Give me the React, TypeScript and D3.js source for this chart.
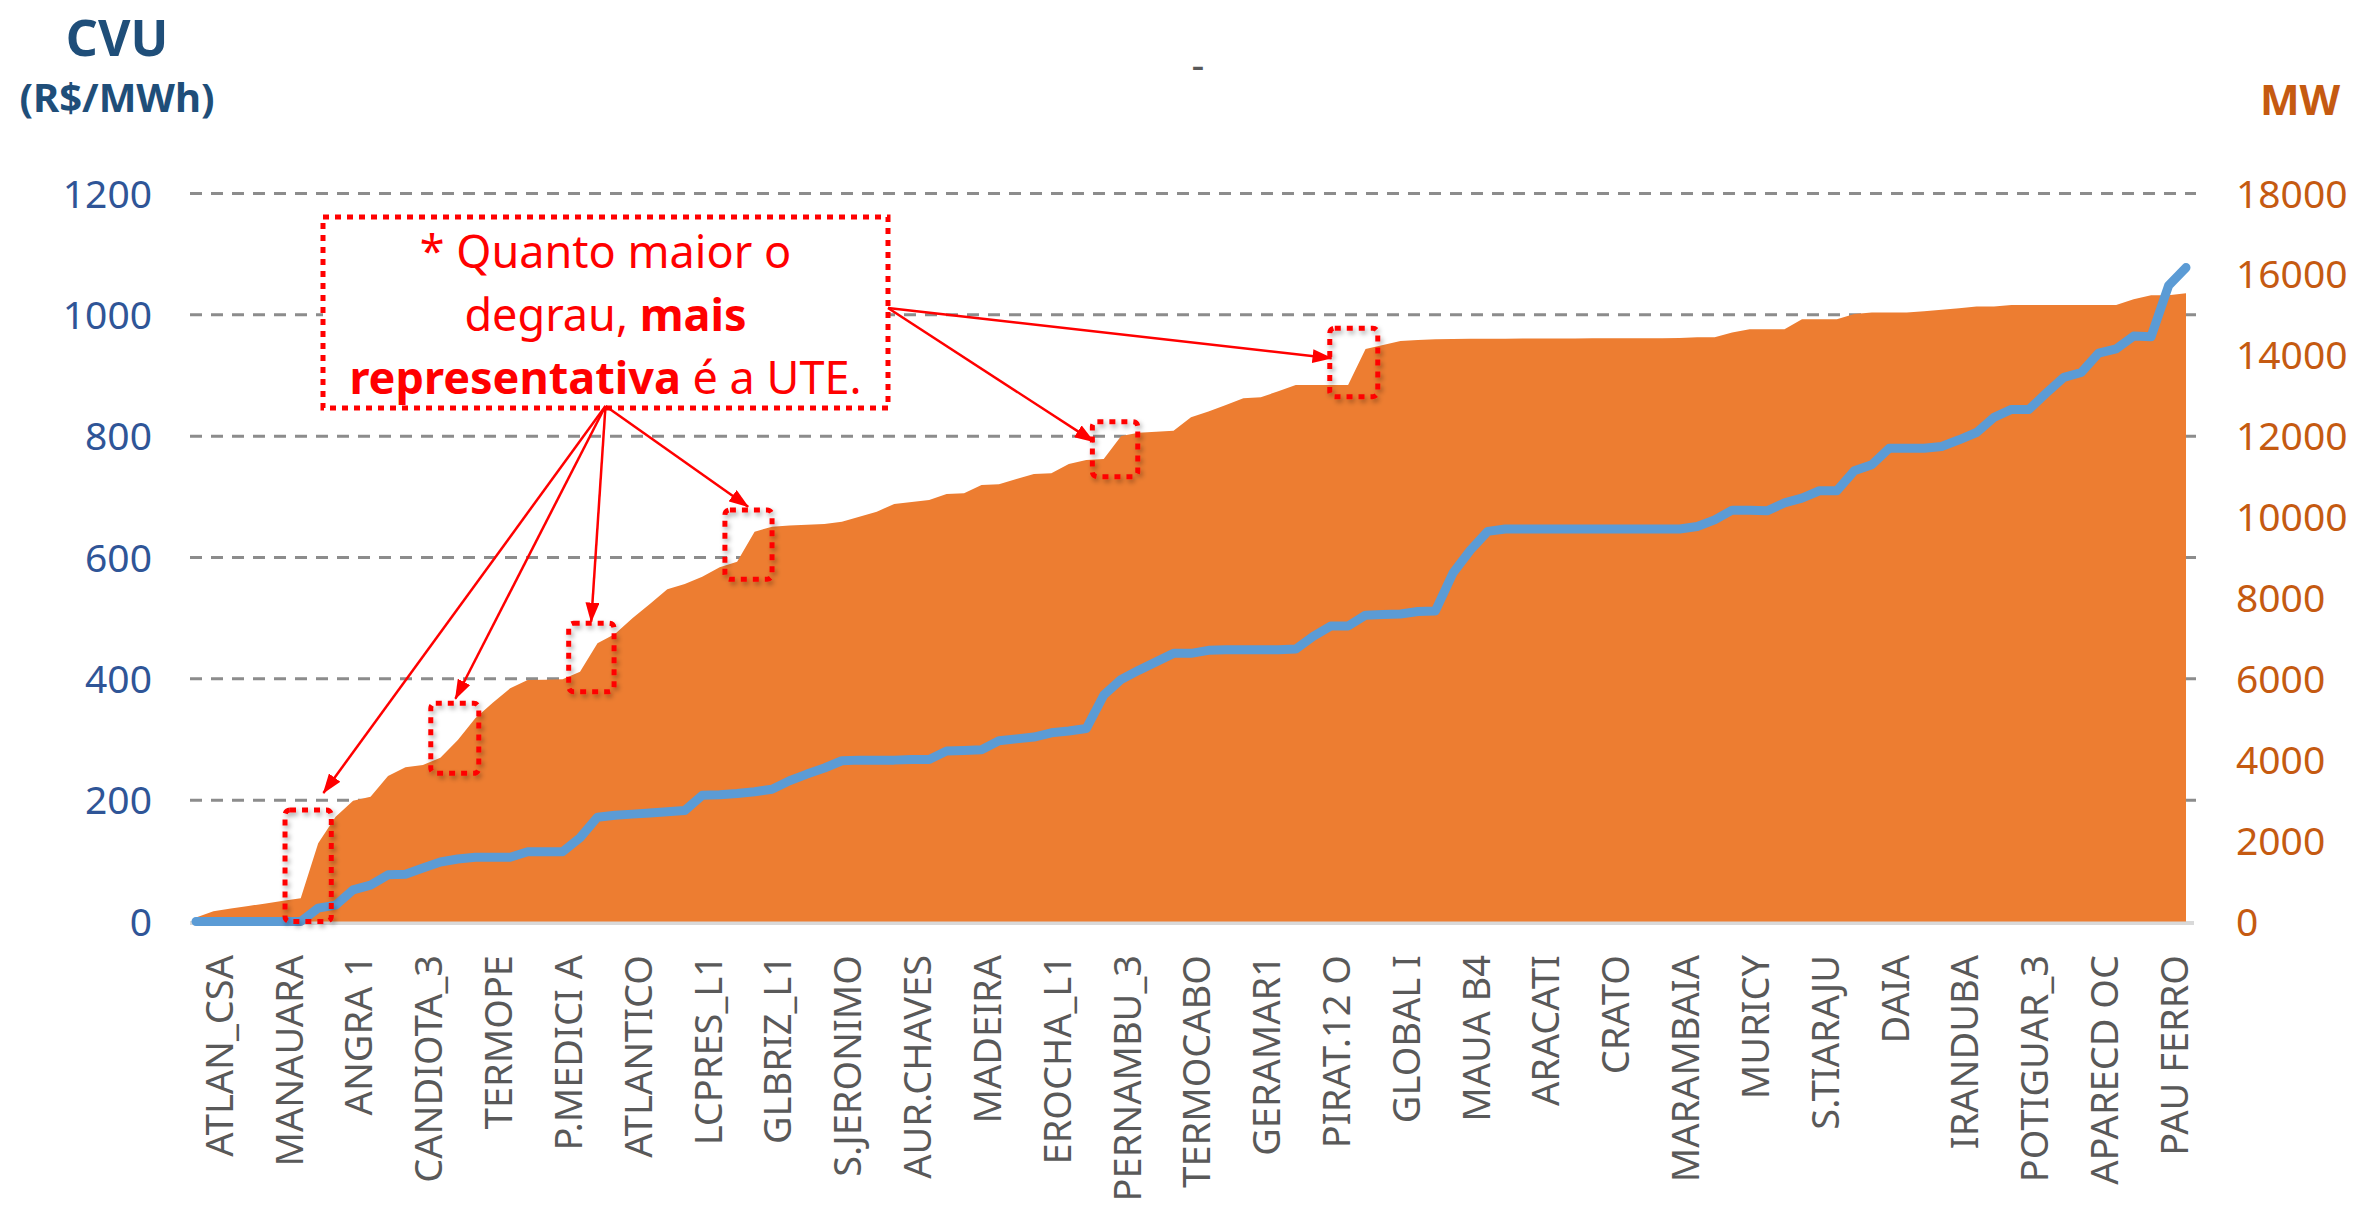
import React, { useEffect, useRef } from "react";
import * as d3 from "d3";

// category labels shown on the x axis (one every 4 plants)
const tickLabels = [
  "ATLAN_CSA", "MANAUARA", "ANGRA 1", "CANDIOTA_3", "TERMOPE", "P.MEDICI A",
  "ATLANTICO", "LCPRES_L1", "GLBRIZ_L1", "S.JERONIMO", "AUR.CHAVES", "MADEIRA",
  "EROCHA_L1", "PERNAMBU_3", "TERMOCABO", "GERAMAR1", "PIRAT.12 O", "GLOBAL I",
  "MAUA B4", "ARACATI", "CRATO", "MARAMBAIA", "MURICY", "S.TIARAJU", "DAIA",
  "IRANDUBA", "POTIGUAR_3", "APARECD OC", "PAU FERRO",
];

// accumulated capacity (MW), right axis
const mwValues = [
  100, 256, 320, 384, 448, 512, 576, 1934, 2592, 2988,
  3087, 3598, 3813, 3870, 4051, 4488, 5025, 5411, 5766, 5971,
  5980, 5989, 6178, 6880, 7109, 7497, 7851, 8215, 8346, 8526,
  8758, 8897, 9639, 9763, 9790, 9810, 9830, 9887, 10010, 10134,
  10324, 10370, 10423, 10572, 10589, 10794, 10811, 10940, 11066, 11083,
  11313, 11412, 11437, 12005, 12087, 12110, 12137, 12468, 12607, 12772,
  12937, 12962, 13110, 13266, 13266, 13266, 13266, 14157, 14256, 14355,
  14380, 14395, 14404, 14410, 14410, 14410, 14415, 14415, 14415, 14415,
  14420, 14420, 14420, 14420, 14420, 14430, 14445, 14445, 14561, 14643,
  14643, 14643, 14891, 14891, 14891, 15022, 15055, 15055, 15055, 15090,
  15125, 15165, 15203, 15203, 15245, 15245, 15245, 15245, 15245, 15245,
  15245, 15386, 15484, 15484, 15534,
];

// CVU (R$/MWh), left axis
const cvuValues = [
  0, 0, 0, 0, 0, 0, 0, 22, 27, 52,
  60, 77, 78, 88, 98, 103, 106, 106, 106, 115,
  115, 115, 138, 172, 175, 177, 179, 181, 183, 208,
  209, 211, 214, 218, 232, 243, 253, 265, 266, 266,
  266, 267, 267, 281, 282, 283, 298, 301, 304, 311,
  314, 318, 373, 399, 414, 428, 442, 442, 447, 448,
  448, 448, 448, 449, 470, 487, 487, 505, 506, 507,
  511, 512, 574, 612, 643, 647, 647, 647, 647, 647,
  647, 647, 647, 647, 647, 647, 651, 662, 678, 678,
  677, 690, 698, 710, 710, 743, 753, 780, 780, 780,
  783, 794, 806, 831, 844, 844, 871, 897, 905, 937,
  944, 965, 964, 1048, 1078,
];

const leftTicks = [0, 200, 400, 600, 800, 1000, 1200];
const rightTicks = [0, 2000, 4000, 6000, 8000, 10000, 12000, 14000, 16000, 18000];

// highlighted steps: [from index, to index, low MW, high MW]
const stepBoxes = [
  [5.1, 7.75, 0, 2757],
  [13.45, 16.2, 3665, 5396],
  [21.35, 23.95, 5683, 7374],
  [30.3, 33.0, 8462, 10176],
  [51.35, 53.95, 10999, 12359],
  [64.95, 67.7, 12977, 14669],
];
// arrow tips [index, MW] and which side of the note they leave from
const arrowTips = [
  [7.3, 3178, "bottom"],
  [14.86, 5507, "bottom"],
  [22.64, 7414, "bottom"],
  [31.63, 10257, "bottom"],
  [51.43, 11865, "right"],
  [65.05, 13927, "right"],
];

const FONT = "'Noto Sans', 'Open Sans', sans-serif";

const App = () => {
  const svgRef = useRef(null);

  useEffect(() => {
    document.body.style.margin = "0";
    const svg = d3.select(svgRef.current);
    svg.selectAll("*").remove();

    const plot = { left: 196, right: 2186, top: 193.5, bottom: 921.5 };
    const gridLeft = 190;
    const gridRight = 2196;

    const x = d3
      .scaleLinear()
      .domain([0, mwValues.length - 1])
      .range([plot.left, plot.right]);
    const yL = d3.scaleLinear().domain([0, 1200]).range([plot.bottom, plot.top]);
    const yR = d3.scaleLinear().domain([0, 18000]).range([plot.bottom, plot.top]);
    const step = x(1) - x(0);

    const defs = svg.append("defs");
    defs
      .append("marker")
      .attr("id", "arrow")
      .attr("markerUnits", "userSpaceOnUse")
      .attr("markerWidth", 20)
      .attr("markerHeight", 14)
      .attr("refX", 19)
      .attr("refY", 7)
      .attr("orient", "auto")
      .append("path")
      .attr("d", "M0,0 L20,7 L0,14 Z")
      .attr("fill", "#FF0000");
    const shadow = defs
      .append("filter")
      .attr("id", "shadow")
      .attr("x", "-30%")
      .attr("y", "-30%")
      .attr("width", "160%")
      .attr("height", "160%");
    shadow
      .append("feDropShadow")
      .attr("dx", 2)
      .attr("dy", 3)
      .attr("stdDeviation", 2.5)
      .attr("flood-color", "#000")
      .attr("flood-opacity", 0.35);

    // dashed gridlines
    svg
      .append("g")
      .selectAll("line")
      .data(leftTicks.filter((t) => t > 0))
      .enter()
      .append("line")
      .attr("x1", gridLeft)
      .attr("x2", gridRight)
      .attr("y1", (d) => yL(d))
      .attr("y2", (d) => yL(d))
      .attr("stroke", "#8C8C8C")
      .attr("stroke-width", 3)
      .attr("stroke-dasharray", "12 9");

    // category axis line
    svg
      .append("line")
      .attr("x1", gridLeft)
      .attr("x2", gridRight - 2)
      .attr("y1", yL(0) + 1.5)
      .attr("y2", yL(0) + 1.5)
      .attr("stroke", "#D9D9D9")
      .attr("stroke-width", 4);

    // MW area
    const area = d3
      .area<number>()
      .x((d, i) => x(i))
      .y0(yR(0))
      .y1((d) => yR(d));
    svg.append("path").datum(mwValues).attr("fill", "#ED7D31").attr("d", area);

    // CVU line
    const line = d3
      .line<number>()
      .x((d, i) => x(i))
      .y((d) => yL(d));
    svg
      .append("path")
      .datum(cvuValues)
      .attr("fill", "none")
      .attr("stroke", "#5B9BD5")
      .attr("stroke-width", 9)
      .attr("stroke-linejoin", "round")
      .attr("stroke-linecap", "round")
      .attr("d", line);

    // left axis labels
    svg
      .append("g")
      .selectAll("text")
      .data(leftTicks)
      .enter()
      .append("text")
      .attr("x", 152)
      .attr("y", (d) => yL(d))
      .attr("dy", "0.36em")
      .attr("text-anchor", "end")
      .attr("font-family", FONT)
      .attr("font-size", 39)
      .attr("fill", "#2F5597")
      .text((d) => d);

    // right axis labels
    svg
      .append("g")
      .selectAll("text")
      .data(rightTicks)
      .enter()
      .append("text")
      .attr("x", 2236)
      .attr("y", (d) => yR(d))
      .attr("dy", "0.36em")
      .attr("text-anchor", "start")
      .attr("font-family", FONT)
      .attr("font-size", 39)
      .attr("fill", "#C55A11")
      .text((d) => d);

    // category labels, rotated
    svg
      .append("g")
      .selectAll("text")
      .data(tickLabels)
      .enter()
      .append("text")
      .attr("transform", (d, j) => `translate(${x(j * 4 + 1) + step * 0.25},955) rotate(-90)`)
      .attr("text-anchor", "end")
      .attr("dominant-baseline", "central")
      .attr("font-family", FONT)
      .attr("font-size", 38)
      .attr("fill", "#595959")
      .text((d) => d);

    // axis titles
    const titles = svg.append("g").attr("font-family", FONT).attr("font-weight", "bold");
    titles
      .append("text")
      .attr("x", 117)
      .attr("y", 56)
      .attr("text-anchor", "middle")
      .attr("font-size", 50)
      .attr("fill", "#1F4E79")
      .text("CVU");
    titles
      .append("text")
      .attr("x", 117)
      .attr("y", 112)
      .attr("text-anchor", "middle")
      .attr("font-size", 40)
      .attr("fill", "#1F4E79")
      .text("(R$/MWh)");
    titles
      .append("text")
      .attr("x", 2300)
      .attr("y", 115)
      .attr("text-anchor", "middle")
      .attr("font-size", 42)
      .attr("fill", "#C55A11")
      .text("MW");

    // chart title placeholder
    svg
      .append("text")
      .attr("x", 1198)
      .attr("y", 79)
      .attr("text-anchor", "middle")
      .attr("font-family", FONT)
      .attr("font-size", 40)
      .attr("fill", "#595959")
      .text("-");

    // dotted boxes around the steps
    svg
      .append("g")
      .selectAll("rect")
      .data(stepBoxes)
      .enter()
      .append("rect")
      .attr("x", (d) => x(d[0]))
      .attr("y", (d) => yR(d[3]))
      .attr("width", (d) => x(d[1]) - x(d[0]))
      .attr("height", (d) => yR(d[2]) - yR(d[3]))
      .attr("rx", 5)
      .attr("fill", "none")
      .attr("stroke", "#FF0000")
      .attr("stroke-width", 5)
      .attr("stroke-dasharray", "6 6")
      .attr("filter", "url(#shadow)");

    // note box
    const note = { x: 323, y: 217, w: 565, h: 191 };
    svg
      .append("rect")
      .attr("x", note.x)
      .attr("y", note.y)
      .attr("width", note.w)
      .attr("height", note.h)
      .attr("fill", "#FFFFFF")
      .attr("stroke", "#FF0000")
      .attr("stroke-width", 5)
      .attr("stroke-dasharray", "6 6");

    const noteText = svg
      .append("text")
      .attr("text-anchor", "middle")
      .attr("font-family", FONT)
      .attr("font-size", 45)
      .attr("fill", "#FF0000");
    const cx = note.x + note.w / 2;
    noteText.append("tspan").attr("x", cx).attr("y", 268).text("* Quanto maior o");
    const l2 = noteText.append("tspan").attr("x", cx).attr("y", 331);
    l2.append("tspan").text("degrau, ");
    l2.append("tspan").attr("font-weight", "bold").text("mais");
    const l3 = noteText.append("tspan").attr("x", cx).attr("y", 394);
    l3.append("tspan").attr("font-weight", "bold").text("representativa");
    l3.append("tspan").text(" é a UTE.");

    // arrows
    const origins = {
      bottom: [cx, note.y + note.h - 2],
      right: [note.x + note.w, 308],
    };
    svg
      .append("g")
      .selectAll("line")
      .data(arrowTips)
      .enter()
      .append("line")
      .attr("x1", (d) => origins[d[2]][0])
      .attr("y1", (d) => origins[d[2]][1])
      .attr("x2", (d) => x(d[0]))
      .attr("y2", (d) => yR(d[1]))
      .attr("stroke", "#FF0000")
      .attr("stroke-width", 2.5)
      .attr("marker-end", "url(#arrow)");
  }, []);

  return (
    <svg
      ref={svgRef}
      width={2380}
      height={1212}
      style={{ display: "block", background: "#FFFFFF" }}
    ></svg>
  );
};

export default App;
